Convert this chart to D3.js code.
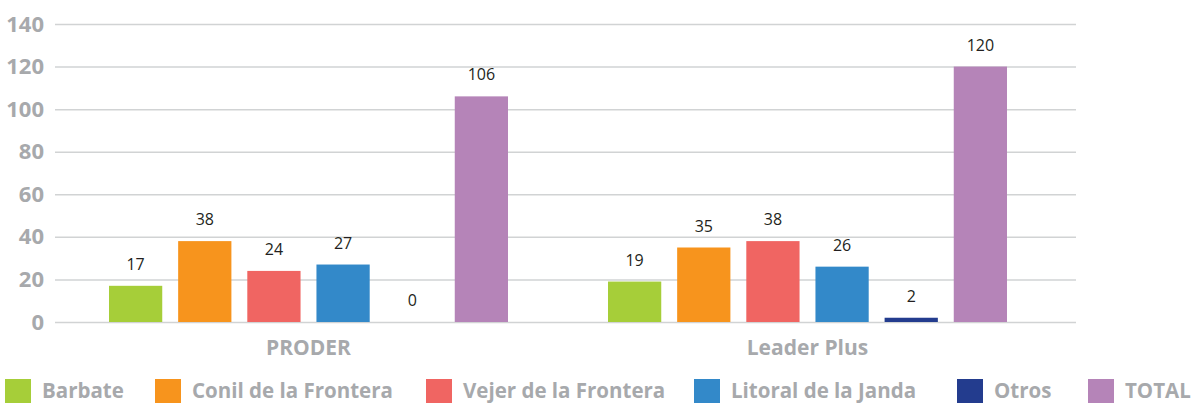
<!DOCTYPE html>
<html>
<head>
<meta charset="utf-8">
<script src="https://cdn.jsdelivr.net/npm/d3@7"></script>
<style>
  body { margin: 0; background: #fff; }
  svg { display: block; }
</style>
</head>
<body>
<div id="chart"></div>
<script>
// data
const programs = ["PRODER", "Leader Plus"];
const areas = ["Barbate", "Conil de la Frontera", "Vejer de la Frontera", "Litoral de la Janda", "Otros", "TOTAL"];
const proderValues = [17, 38, 24, 27, 0, 106];
const leaderValues = [19, 35, 38, 26, 2, 120];
const yTicks = [0, 20, 40, 60, 80, 100, 120, 140];
const areaColors = ["#a6ce39", "#f7941d", "#f06562", "#3389c9", "#233c8e", "#b584b8"];

const width = 1195, height = 404;
const grey = "#a7a9ac";

const svg = d3.select("#chart").append("svg")
    .attr("width", width)
    .attr("height", height);

const y = d3.scaleLinear().domain([0, 140]).range([322, 24]);
const x0 = d3.scaleBand().domain(programs).range([59, 1057]);
const x1 = d3.scaleBand().domain(areas).range([50, 449]).paddingInner(0.23);
const color = d3.scaleOrdinal().domain(areas).range(areaColors);

// gridlines + tick labels
const yAxis = svg.append("g")
    .attr("transform", "translate(55,0)")
    .call(d3.axisLeft(y).tickValues(yTicks).tickSize(-1021).tickPadding(11));
yAxis.select(".domain").remove();
yAxis.selectAll(".tick line").attr("stroke", "#d1d3d4").attr("stroke-width", 1.5);
yAxis.selectAll(".tick text")
    .attr("fill", grey)
    .style("font-family", "'Open Sans', sans-serif")
    .style("font-weight", "bold")
    .style("font-size", "22px");

const rows = programs.map((p, i) => ({
    program: p,
    values: areas.map((a, j) => ({ area: a, value: (i === 0 ? proderValues : leaderValues)[j] }))
}));

const groups = svg.selectAll("g.group")
    .data(rows)
    .join("g")
    .attr("class", "group")
    .attr("transform", d => `translate(${x0(d.program)},0)`);

groups.selectAll("rect")
    .data(d => d.values)
    .join("rect")
    .attr("x", d => x1(d.area))
    .attr("y", d => y(d.value))
    .attr("width", x1.bandwidth())
    .attr("height", d => y(0) - y(d.value))
    .attr("fill", d => color(d.area));

groups.selectAll("text.value")
    .data(d => d.values)
    .join("text")
    .attr("class", "value")
    .attr("x", d => x1(d.area) + x1.bandwidth() / 2)
    .attr("y", d => y(d.value) - 16)
    .attr("text-anchor", "middle")
    .attr("fill", "#231f20")
    .style("font-family", "'Open Sans', sans-serif")
    .style("font-size", "16px")
    .text(d => d.value);

// category labels
svg.selectAll("text.cat")
    .data(programs)
    .join("text")
    .attr("class", "cat")
    .attr("x", d => x0(d) + x0.bandwidth() / 2)
    .attr("y", 355)
    .attr("text-anchor", "middle")
    .attr("fill", grey)
    .style("font-family", "'Open Sans', sans-serif")
    .style("font-weight", "bold")
    .style("font-size", "21px")
    .text(d => d);

// legend
const legendX = [5, 155, 426, 694, 957, 1088];
const legend = svg.selectAll("g.legend")
    .data(areas)
    .join("g")
    .attr("class", "legend")
    .attr("transform", (d, i) => `translate(${legendX[i]},379)`);

legend.append("rect")
    .attr("width", 26)
    .attr("height", 24)
    .attr("fill", d => color(d));

legend.append("text")
    .attr("x", 37)
    .attr("y", 19)
    .attr("fill", grey)
    .style("font-family", "'Open Sans', sans-serif")
    .style("font-weight", "bold")
    .style("font-size", "20.5px")
    .text(d => d);
</script>
</body>
</html>
